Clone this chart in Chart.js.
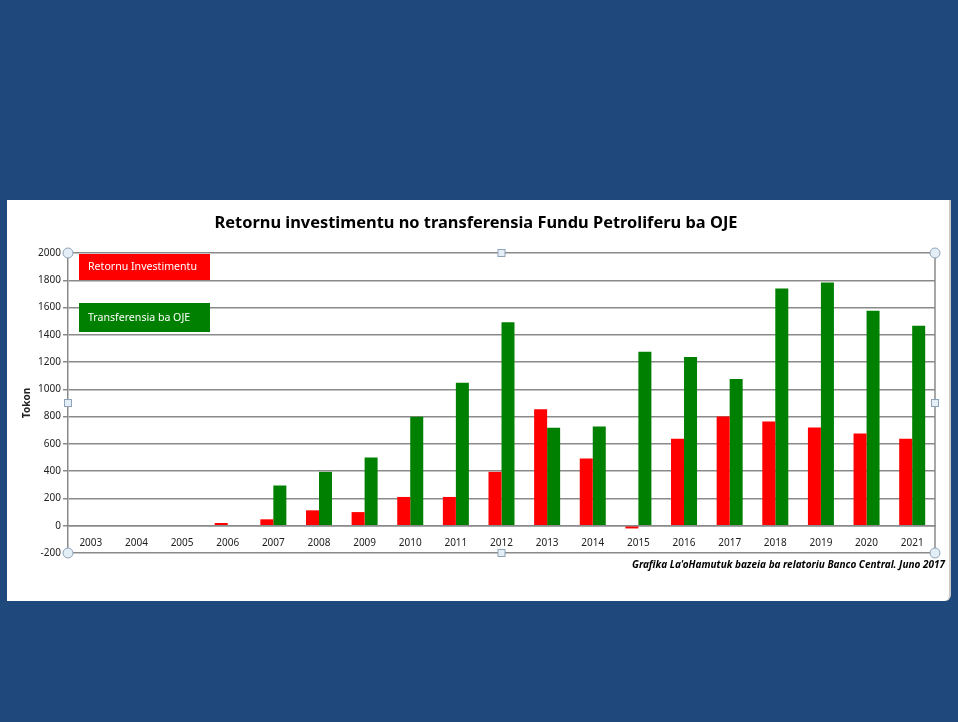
<!DOCTYPE html>
<html>
<head>
<meta charset="utf-8">
<script src="https://cdn.jsdelivr.net/npm/chart.js@4"></script>
<style>
  html, body { margin: 0; padding: 0; }
  body { width: 958px; height: 722px; background: #1f497d; position: relative; overflow: hidden; }
  #card { position: absolute; left: 7px; top: 200px; width: 942px; height: 401px; background: #fff; border-right: 2px solid #c8c8c8; border-bottom-right-radius: 6px; }
</style>
</head>
<body>
<div id="card"><canvas id="chart" width="942" height="401"></canvas></div>
<script>
// chart data (millions USD)
const years = ['2003', '2004', '2005', '2006', '2007', '2008', '2009', '2010', '2011', '2012',
               '2013', '2014', '2015', '2016', '2017', '2018', '2019', '2020', '2021'];
const retornu = [null, null, null, 20, 47, 113, 100, 211, 211, 395,
                 855, 493, -20, 637, 801, 765, 721, 676, 637];
const transferensia = [null, null, null, null, 295, 395, 500, 799, 1049, 1493,
                       718, 728, 1275, 1238, 1076, 1740, 1784, 1576, 1466];
const yTicks = { min: -200, max: 2000, step: 200 };

const titleText = 'Retornu investimentu no transferensia Fundu Petroliferu ba OJE';
const sourceText = "Grafika La'oHamutuk bazeia ba relatoriu Banco Central. Juno 2017";
const fontFamily = "'Noto Sans', 'Liberation Sans', sans-serif";

// draws title, source note, legend boxes and the excel-like frame handles
const decorPlugin = {
    id: 'decor',
    afterDraw: function(chart) {
        const ctx = chart.ctx;
        const area = chart.chartArea;
        ctx.save();

        // right border of plot area
        ctx.strokeStyle = '#8a8a8a';
        ctx.lineWidth = 1.5;
        ctx.beginPath();
        ctx.moveTo(area.right, area.top);
        ctx.lineTo(area.right, area.bottom);
        ctx.stroke();

        // title
        ctx.fillStyle = '#000';
        ctx.font = 'bold 16.4px ' + fontFamily;
        ctx.textAlign = 'center';
        ctx.textBaseline = 'middle';
        ctx.fillText(titleText, 469, 23);

        // source note
        ctx.font = 'italic bold 10px ' + fontFamily;
        ctx.textAlign = 'right';
        ctx.fillText(sourceText, 938, 365);

        // legend boxes inside the plot
        const boxes = [{ y: 54, h: 26 }, { y: 103, h: 29 }];
        chart.data.datasets.forEach(function(ds, i) {
            ctx.fillStyle = ds.backgroundColor;
            ctx.fillRect(72, boxes[i].y, 131, boxes[i].h);
            ctx.fillStyle = '#fff';
            ctx.font = '10.6px ' + fontFamily;
            ctx.textAlign = 'left';
            ctx.fillText(ds.label, 81, boxes[i].y + boxes[i].h / 2);
        });

        // selection handles
        const midX = (area.left + area.right) / 2;
        const midY = (area.top + area.bottom) / 2;
        ctx.lineWidth = 1;
        ctx.strokeStyle = '#8fa3b8';
        ctx.fillStyle = '#e4eef6';
        [[area.left, area.top], [area.right, area.top], [area.left, area.bottom], [area.right, area.bottom]].forEach(function(p) {
            ctx.beginPath();
            ctx.arc(p[0], p[1], 5, 0, Math.PI * 2);
            ctx.fill();
            ctx.stroke();
        });
        [[midX, area.top], [midX, area.bottom], [area.left, midY], [area.right, midY]].forEach(function(p) {
            ctx.fillRect(p[0] - 3.5, p[1] - 3.5, 7, 7);
            ctx.strokeRect(p[0] - 3.5, p[1] - 3.5, 7, 7);
        });
        ctx.restore();
    }
};

const ctx = document.getElementById('chart').getContext('2d');
new Chart(ctx, {
    type: 'bar',
    data: {
        labels: years,
        datasets: [
            { label: 'Retornu Investimentu', data: retornu, backgroundColor: '#ff0000', borderWidth: 0 },
            { label: 'Transferensia ba OJE', data: transferensia, backgroundColor: '#008000', borderWidth: 0 }
        ]
    },
    options: {
        responsive: false,
        animation: false,
        layout: { padding: { left: 0, top: 53, right: 14, bottom: 48 } },
        datasets: { bar: { categoryPercentage: 0.57, barPercentage: 1.0 } },
        plugins: {
            legend: { display: false },
            tooltip: { enabled: false }
        },
        scales: {
            x: {
                position: { y: 0 },
                grid: { display: false, drawTicks: false },
                border: { display: true, color: '#8a8a8a', width: 1.5 },
                ticks: { color: '#222', font: { family: fontFamily, size: 10 }, padding: 11, maxRotation: 0, autoSkip: false }
            },
            y: {
                min: yTicks.min,
                max: yTicks.max,
                afterFit: function(scale) { scale.width = 61; },
                grid: { color: '#8a8a8a', lineWidth: 1.5, tickLength: 5 },
                border: { color: '#8a8a8a', width: 1.5 },
                ticks: {
                    stepSize: yTicks.step, color: '#222', font: { family: fontFamily, size: 10 }, padding: 2,
                    callback: function(value) { return String(value); }
                },
                title: { display: true, text: 'Tokon', color: '#222', font: { family: fontFamily, size: 10, weight: 'bold' }, padding: { top: 14 } }
            }
        }
    },
    plugins: [decorPlugin]
});
</script>
</body>
</html>
